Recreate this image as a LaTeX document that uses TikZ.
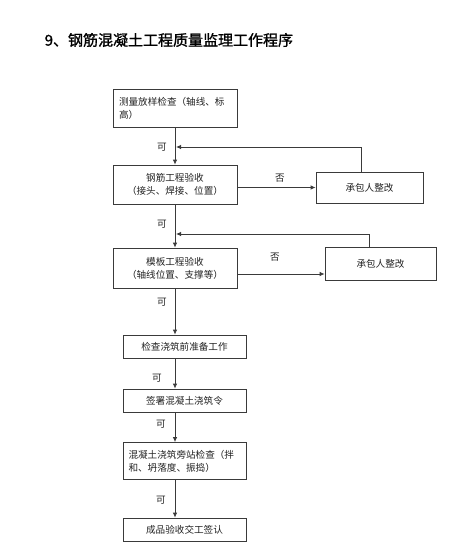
\documentclass[tikz,border=0pt]{standalone}
\usepackage{fontspec}
\setmainfont{Noto Sans CJK SC}
\newfontfamily\ttlfont[AutoFakeBold=1.2]{Noto Sans CJK SC}
\usetikzlibrary{arrows.meta, calc}
\definecolor{cline}{HTML}{3A3A3A}
\definecolor{ctext}{HTML}{222222}
\tikzset{
  every picture/.style={line width=0.8pt},
  box/.style={draw=cline, rectangle, inner sep=3pt, minimum width=124pt, text=ctext, font=\fontsize{9.6}{13}\selectfont},
  arrow/.style={-{Latex[length=5pt, width=4.5pt]}, draw=cline},
  lbl/.style={text=ctext, font=\fontsize{9.6}{12}\selectfont, inner sep=1pt},
  title/.style={text=black, font=\ttlfont\bfseries\fontsize{15}{18}\selectfont, anchor=west},
}

\begin{document}
\begin{tikzpicture}[x=1pt, y=-1pt]
  \useasboundingbox (0,0) rectangle (474,558);
  \node[title] (ttl) at (41,40) {9、钢筋混凝土工程质量监理工作程序};
  % main chain
  \node[box, minimum height=38pt, align=left, text width=112pt] (b1) at (175,108) {测量放样检查（轴线、标\\高）};
  \node[box, minimum height=39pt, align=center] (b2) at (175,184.5) {钢筋工程验收\\（接头、焊接、位置）};
  \node[box, minimum height=40pt, align=center] (b4) at (175,268) {模板工程验收\\（轴线位置、支撑等）};
  \node[box, minimum width=123pt, minimum height=23pt] (b6) at (184.5,346.5) {检查浇筑前准备工作};
  \node[box, minimum width=123pt, minimum height=23pt] (b7) at (184.5,400.5) {签署混凝土浇筑令};
  \node[box, minimum width=123pt, minimum height=37pt, align=left, text width=112pt] (b8) at (184.5,461) {混凝土浇筑旁站检查（拌\\和、坍落度、振捣）};
  \node[box, minimum width=123pt, minimum height=23pt] (b9) at (184.5,529.5) {成品验收交工签认};
  % rework boxes
  \node[box, minimum width=107pt, minimum height=31pt] (r1) at (369.5,187.5) {承包人整改};
  \node[box, minimum width=111pt, minimum height=33pt] (r2) at (380.5,263.5) {承包人整改};
  \coordinate (j1) at (176,147);
  \coordinate (j2) at (176,234);

  \draw[arrow] (b1.south) -- (b2.north);
  \draw[arrow] (b2.south) -- (b4.north);
  \draw[arrow] (b4.south) -- (b4.south |- b6.north);
  \draw[arrow] (b4.south |- b6.south) -- (b4.south |- b7.north);
  \draw[arrow] (b4.south |- b7.south) -- (b4.south |- b8.north);
  \draw[arrow] (b4.south |- b8.south) -- (b4.south |- b9.north);
  \draw[arrow] (r1.west -| b2.east) -- (r1.west);
  \draw[arrow] ([yshift=-6pt]b4.east) -- ([yshift=-6pt]b4.east -| r2.west);
  \draw[arrow] ([xshift=-8pt]r1.north) |- (j1);
  \draw[arrow] ([xshift=-11pt]r2.north) |- (j2);

  \node[lbl] (k1) at (162,147) {可};
  \node[lbl] (k2) at (162,224) {可};
  \node[lbl] (k3) at (162,302) {可};
  \node[lbl] (k4) at (157,378) {可};
  \node[lbl] (k5) at (161,424) {可};
  \node[lbl] (k6) at (161,500) {可};
  \node[lbl] (n1) at (280,178) {否};
  \node[lbl] (n2) at (275,257) {否};
\end{tikzpicture}
\end{document}
